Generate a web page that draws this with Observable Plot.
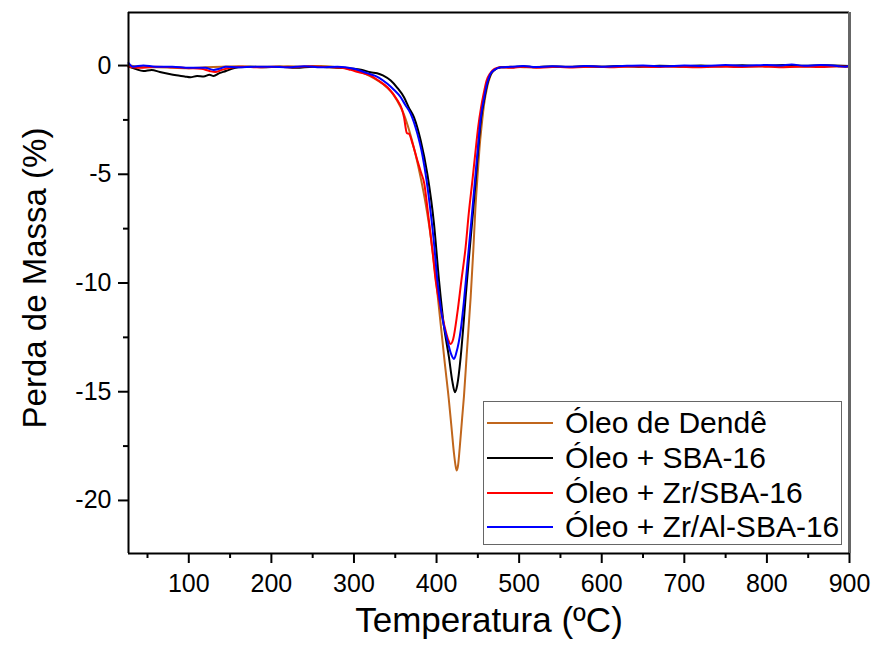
<!DOCTYPE html>
<html>
<head>
<meta charset="utf-8">
<script src="https://cdn.jsdelivr.net/npm/d3@7"></script>
<script src="https://cdn.jsdelivr.net/npm/@observablehq/plot@0.6"></script>
<style>
  html, body { margin: 0; padding: 0; background: white; }
  #wrap { position: relative; width: 873px; height: 649px; font-family: "Liberation Sans", Arial, sans-serif; }
  #legend { position: absolute; left: 483px; top: 401px; width: 359px; height: 144px; border: 1.5px solid #666; background: white; box-sizing: border-box; }
  .row { position: absolute; left: 0; height: 34px; display: flex; align-items: center; font-size: 30px; color: black; white-space: nowrap; }
  .sw { width: 66px; height: 2px; margin-left: 3px; margin-right: 12px; }
</style>
</head>
<body>
<div id="wrap"></div>
<script>
// Series names and colours
const seriesNames = ["Óleo de Dendê", "Óleo + SBA-16", "Óleo + Zr/SBA-16", "Óleo + Zr/Al-SBA-16"];
const seriesColors = ["#C0661C", "#000000", "#FF0000", "#0000FF"];

// Óleo de Dendê
const dendeT = [27, 40, 60, 80, 100, 120, 140, 160, 180, 200, 220, 240, 260, 280, 295, 305, 315, 325, 335, 345, 352, 360, 367, 374, 381, 387, 392, 396, 400, 405, 410, 414.7, 418, 421, 423, 424.4, 426, 428, 431, 433.2, 436.5, 441.3, 444.5, 447, 449.4, 452, 454.5, 457.5, 461.5, 465.5, 470, 478, 490, 510, 530, 550, 575, 600, 625, 650, 675, 700, 725, 750, 775, 800, 825, 850, 875, 900];
const dendeV = [0.02, -0.05, -0.08, -0.1, -0.12, -0.08, -0.05, -0.03, -0.05, -0.05, -0.03, -0.05, -0.02, -0.08, -0.15, -0.25, -0.4, -0.6, -0.85, -1.2, -1.6, -2.2, -3.0, -4.0, -5.2, -6.4, -7.6, -8.8, -10.1, -11.9, -13.7, -15.3, -16.6, -17.8, -18.4, -18.62, -18.4, -17.6, -16.2, -15.2, -13.3, -10.65, -8.5, -6.6, -5.2, -3.8, -2.8, -1.8, -0.95, -0.45, -0.2, -0.08, -0.05, -0.08, -0.05, -0.06, -0.04, -0.05, -0.03, -0.04, -0.02, -0.04, -0.03, -0.02, -0.04, -0.03, -0.02, -0.04, -0.03, -0.05];

// Óleo + SBA-16
const sbaT = [27, 35, 45, 55, 65, 75, 85, 95, 102, 110, 118, 125, 130, 137, 145, 152, 160, 175, 190, 210, 230, 250, 270, 285, 300, 310, 320, 328, 335, 344.5, 352, 360.6, 366, 372.7, 380.8, 388.9, 396.9, 403, 409, 415, 419, 422.3, 425, 429.2, 432, 435.2, 440, 444, 447.4, 450.3, 454, 457.5, 461.5, 465.5, 470, 478, 490, 505, 520, 540, 560, 580, 600, 620, 645, 670, 695, 720, 745, 770, 795, 820, 845, 870, 900];
const sbaV = [-0.05, -0.15, -0.25, -0.2, -0.3, -0.38, -0.45, -0.5, -0.54, -0.48, -0.5, -0.42, -0.48, -0.35, -0.25, -0.15, -0.08, -0.05, -0.08, -0.05, -0.1, -0.05, -0.08, -0.1, -0.15, -0.2, -0.31, -0.35, -0.45, -0.69, -1.0, -1.46, -1.9, -2.38, -3.45, -5.0, -7.28, -9.89, -12.0, -13.41, -14.5, -15.02, -14.7, -13.41, -12.2, -10.65, -8.5, -6.8, -5.29, -3.9, -2.4, -1.6, -0.84, -0.4, -0.2, -0.08, -0.08, -0.03, -0.08, -0.04, -0.07, -0.03, -0.06, -0.02, -0.05, -0.01, -0.04, 0.0, -0.03, 0.01, -0.02, 0.02, -0.01, 0.01, -0.02];

// Óleo + Zr/SBA-16
const zrT = [27, 40, 60, 80, 100, 115, 125, 132, 140, 150, 165, 185, 205, 225, 245, 265, 285, 296, 305, 320, 330, 340.5, 352.6, 358, 360.6, 364, 366.6, 371, 376.8, 381, 385, 390, 395, 399, 405, 411, 414, 417.1, 420, 425.1, 430, 435.2, 439, 443.4, 447, 450.5, 454, 457, 460.5, 465, 470, 478, 490, 505, 525, 545, 565, 590, 615, 640, 665, 690, 715, 740, 765, 790, 815, 840, 865, 885, 900];
const zrV = [-0.05, -0.1, -0.05, -0.08, -0.12, -0.15, -0.25, -0.3, -0.2, -0.1, -0.05, -0.08, -0.05, -0.08, -0.03, -0.07, -0.1, -0.2, -0.3, -0.46, -0.7, -1.0, -1.6, -2.0, -2.38, -3.1, -3.14, -3.6, -4.37, -4.9, -5.4, -6.9, -8.5, -9.9, -11.2, -12.2, -12.6, -12.8, -12.6, -11.4, -9.9, -8.35, -6.8, -5.29, -4.0, -2.8, -1.9, -1.3, -0.7, -0.35, -0.15, -0.08, -0.1, -0.05, -0.1, -0.06, -0.09, -0.05, -0.08, -0.04, -0.07, -0.05, -0.08, -0.05, -0.07, -0.04, -0.08, -0.05, -0.07, -0.03, -0.06];

// Óleo + Zr/Al-SBA-16
const zralT = [27, 32, 45, 60, 80, 100, 120, 130, 137, 145, 160, 180, 200, 220, 240, 260, 280, 300, 316, 330, 340.5, 348, 356.6, 362, 368.7, 376.8, 382.8, 388, 393, 397, 401, 406, 413.1, 417, 421.1, 424, 429.2, 433, 437.3, 442, 446.5, 449.8, 453.5, 457, 461, 465, 470, 478, 490, 505, 520, 540, 560, 580, 600, 625, 650, 675, 700, 725, 750, 775, 800, 815, 830, 845, 865, 885, 895, 900];
const zralV = [0.12, -0.05, 0.0, -0.05, -0.05, -0.1, -0.1, -0.2, -0.15, -0.05, -0.08, -0.05, -0.05, -0.08, -0.03, -0.08, -0.05, -0.15, -0.35, -0.55, -0.84, -1.1, -1.46, -1.8, -2.22, -3.14, -4.1, -5.3, -6.8, -8.2, -9.89, -11.4, -12.64, -13.2, -13.49, -13.2, -12.18, -10.9, -9.12, -7.2, -5.29, -3.9, -2.4, -1.6, -0.84, -0.4, -0.2, -0.08, -0.06, -0.02, -0.07, -0.03, -0.06, -0.02, -0.05, -0.02, 0.0, -0.03, 0.0, -0.02, 0.02, -0.01, 0.03, 0.0, 0.05, -0.01, 0.02, -0.02, -0.06, -0.01];

// Ticks
const xMajor = [100, 200, 300, 400, 500, 600, 700, 800, 900];
const xMinor = [50, 150, 250, 350, 450, 550, 650, 750, 850];
const yMajor = [0, -5, -10, -15, -20];
const yMinor = [2.5, -2.5, -7.5, -12.5, -17.5, -22.5].filter(v => v > -22.44 && v < 2.44);

const xTitle = "Temperatura (ºC)";
const yTitle = "Perda de Massa (%)";

const seriesT = [dendeT, sbaT, zrT, zralT];
const seriesV = [dendeV, sbaV, zrV, zralV];
const rows = [];
seriesNames.forEach((name, i) => {
  seriesT[i].forEach((t, j) => rows.push({series: name, T: t, V: seriesV[i][j]}));
});

const xDom = [27, 900];
const yDom = [-22.44, 2.44];

const chart = Plot.plot({
  width: 873,
  height: 649,
  marginLeft: 128,
  marginRight: 24,
  marginTop: 12,
  marginBottom: 96,
  x: {domain: xDom},
  y: {domain: yDom},
  color: {domain: seriesNames, range: seriesColors},
  style: {fontFamily: "'Liberation Sans', Arial, sans-serif", fontSize: "25px", color: "black", background: "white", overflow: "visible"},
  marks: [
    Plot.axisX(xMajor, {tickSize: 10, tickPadding: 11, strokeWidth: 2, tickFormat: d => String(d), label: null}),
    Plot.axisX(xMinor, {tickSize: 5, strokeWidth: 2, tickFormat: () => "", label: null}),
    Plot.axisY(yMajor, {tickSize: 10, tickPadding: 7, strokeWidth: 2, tickFormat: d => String(d), label: null}),
    Plot.axisY(yMinor, {tickSize: 5, strokeWidth: 2, tickFormat: () => "", label: null}),
    Plot.line(rows, {x: "T", y: "V", z: "series", stroke: "series", strokeWidth: 2, curve: "monotone-x"}),
    Plot.ruleY([yDom[1]], {stroke: "black", strokeWidth: 2}),
    Plot.ruleX([xDom[1]], {stroke: "#666", strokeWidth: 3}),
    Plot.ruleX([xDom[0]], {stroke: "black", strokeWidth: 2}),
    Plot.ruleY([yDom[0]], {stroke: "black", strokeWidth: 2}),
    Plot.text([xTitle], {text: d => d, frameAnchor: "bottom", dy: 78, fontSize: 35}),
    Plot.text([yTitle], {text: d => d, frameAnchor: "left", textAnchor: "middle", dx: -93, dy: -5, rotate: -90, fontSize: 33})
  ]
});

const wrap = document.getElementById("wrap");
wrap.appendChild(chart);

const legend = document.createElement("div");
legend.id = "legend";
seriesNames.forEach((name, i) => {
  const row = document.createElement("div");
  row.className = "row";
  row.style.top = (4 + i * 34.8) + "px";
  const sw = document.createElement("div");
  sw.className = "sw";
  sw.style.background = seriesColors[i];
  const tx = document.createElement("span");
  tx.textContent = name;
  row.appendChild(sw);
  row.appendChild(tx);
  legend.appendChild(row);
});
wrap.appendChild(legend);
</script>
</body>
</html>
